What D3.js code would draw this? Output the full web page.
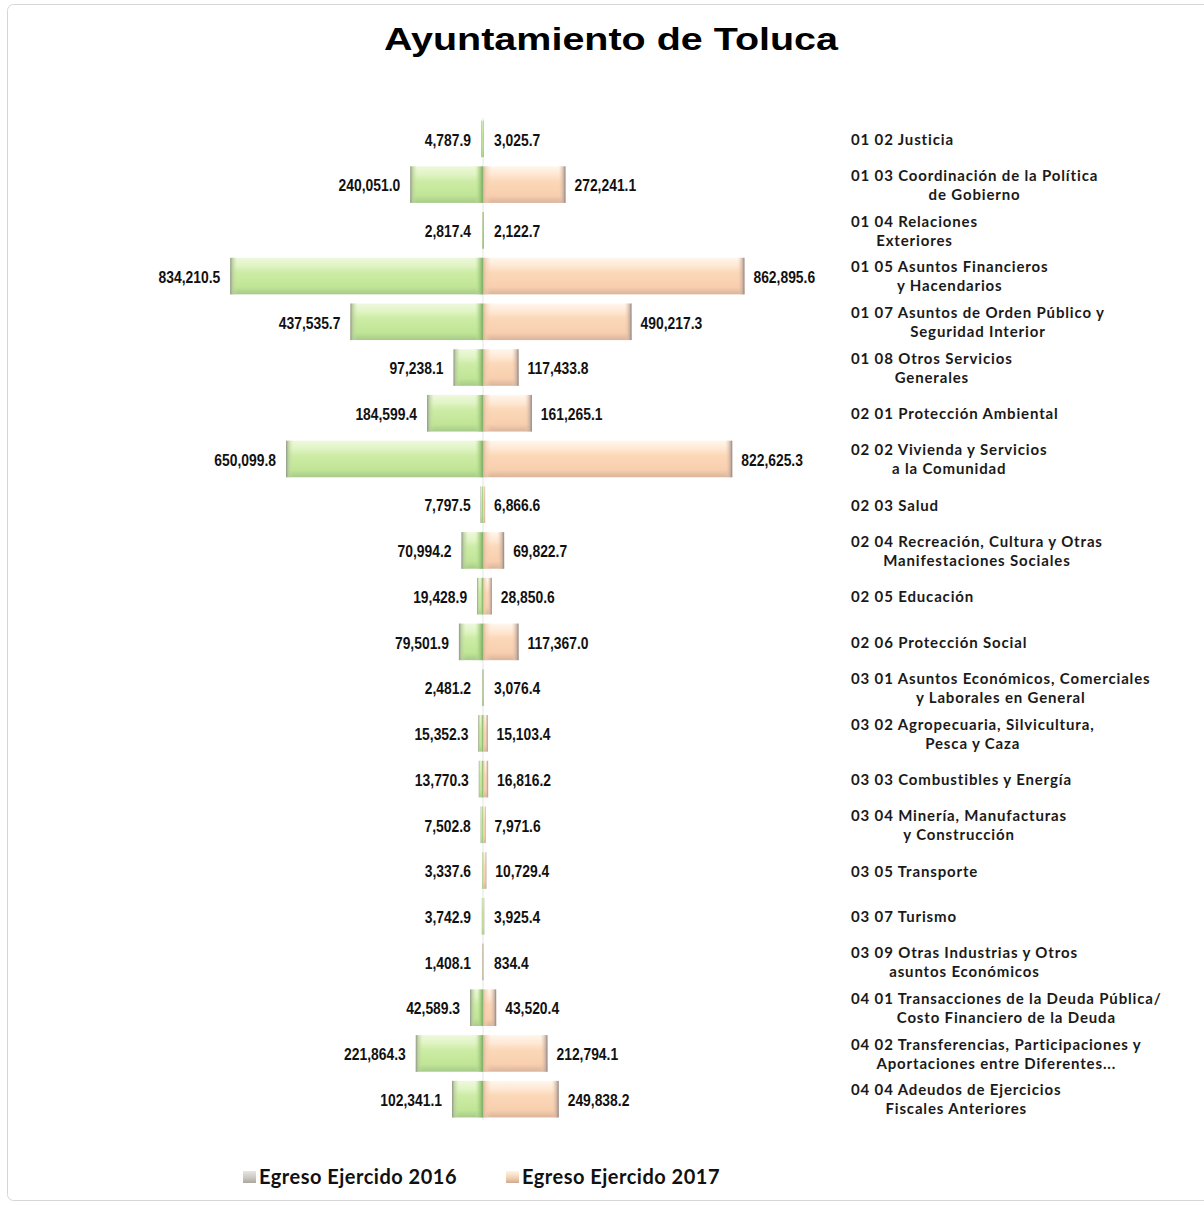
<!DOCTYPE html>
<html>
<head>
<meta charset="utf-8">
<script src="https://cdn.jsdelivr.net/npm/d3@7"></script>
<style>
  body { margin: 0; background: #fff; }
  .valText { font-family: "Liberation Sans", Arial, sans-serif; font-weight: bold; font-size: 16.5px; fill: #111; }
  .catText { font-family: Lato, "Open Sans", sans-serif; font-weight: bold; font-size: 15px; fill: #1a1a1a; letter-spacing: 0.85px; }
  .legText { font-family: Lato, "Open Sans", sans-serif; font-weight: bold; font-size: 20px; fill: #111; letter-spacing: 0.5px; }
</style>
</head>
<body>
<div class="chart"></div>
<script>
// Chart data
var categories = [
  ["01 02 Justicia"],
  ["01 03 Coordinación de la Política", "de Gobierno"],
  ["01 04 Relaciones", "Exteriores"],
  ["01 05 Asuntos Financieros", "y Hacendarios"],
  ["01 07 Asuntos de Orden Público y", "Seguridad Interior"],
  ["01 08 Otros Servicios", "Generales"],
  ["02 01 Protección Ambiental"],
  ["02 02 Vivienda y Servicios", "a la Comunidad"],
  ["02 03 Salud"],
  ["02 04 Recreación, Cultura y Otras", "Manifestaciones Sociales"],
  ["02 05 Educación"],
  ["02 06 Protección Social"],
  ["03 01 Asuntos Económicos, Comerciales", "y Laborales en General"],
  ["03 02 Agropecuaria, Silvicultura,", "Pesca y Caza"],
  ["03 03 Combustibles y Energía"],
  ["03 04 Minería, Manufacturas", "y Construcción"],
  ["03 05 Transporte"],
  ["03 07 Turismo"],
  ["03 09 Otras Industrias y Otros", "asuntos Económicos"],
  ["04 01 Transacciones de la Deuda Pública/", "Costo Financiero de la Deuda"],
  ["04 02 Transferencias, Participaciones y", "Aportaciones entre Diferentes..."],
  ["04 04 Adeudos de Ejercicios", "Fiscales Anteriores"]
];
var egreso2016 = [4787.9, 240051.0, 2817.4, 834210.5, 437535.7, 97238.1, 184599.4, 650099.8,
  7797.5, 70994.2, 19428.9, 79501.9, 2481.2, 15352.3, 13770.3, 7502.8, 3337.6, 3742.9,
  1408.1, 42589.3, 221864.3, 102341.1];
var egreso2017 = [3025.7, 272241.1, 2122.7, 862895.6, 490217.3, 117433.8, 161265.1, 822625.3,
  6866.6, 69822.7, 28850.6, 117367.0, 3076.4, 15103.4, 16816.2, 7971.6, 10729.4, 3925.4,
  834.4, 43520.4, 212794.1, 249838.2];
var seriesNames = ["Egreso Ejercido 2016", "Egreso Ejercido 2017"];

var data = categories.map(function(c, i) {
  return { key: i, label: c, v16: egreso2016[i], v17: egreso2017[i] };
});

var svgWidth = 1204, svgHeight = 1205;
var centerX = 483;

var svg = d3.select(".chart").append("svg")
  .attr("width", svgWidth)
  .attr("height", svgHeight);

// frame
svg.append("rect")
  .attr("x", 7.5).attr("y", 4.5)
  .attr("width", 1220).attr("height", 1196)
  .attr("rx", 6)
  .attr("fill", "#fff")
  .attr("stroke", "#d6d6d6");

var defs = svg.append("defs");
function vGrad(id, stops) {
  var g = defs.append("linearGradient").attr("id", id)
    .attr("x1", 0).attr("y1", 0).attr("x2", 0).attr("y2", 1);
  stops.forEach(function(s) {
    g.append("stop").attr("offset", s[0]).attr("stop-color", s[1]).attr("stop-opacity", s[2] == null ? 1 : s[2]);
  });
}
function hGrad(id, stops) {
  var g = defs.append("linearGradient").attr("id", id)
    .attr("x1", 0).attr("y1", 0).attr("x2", 1).attr("y2", 0);
  stops.forEach(function(s) {
    g.append("stop").attr("offset", s[0]).attr("stop-color", s[1]).attr("stop-opacity", s[2]);
  });
}
vGrad("greenV", [["0%", "#eef8dc"], ["22%", "#e0f4c4"], ["40%", "#cdeca6"], ["80%", "#c0e596"], ["100%", "#a7c98a"]]);
vGrad("peachV", [["0%", "#fff6ec"], ["22%", "#fee8d4"], ["40%", "#fbd8b8"], ["80%", "#f8cfae"], ["100%", "#d9b49c"]]);
hGrad("greenOuter", [["0%", "#8e9586", 1], ["30%", "#b5c79c", 0.8], ["100%", "#c6e89e", 0]]);
hGrad("greenInner", [["0%", "#c6e89e", 0], ["60%", "#9ccb7a", 0.8], ["100%", "#7faa66", 1]]);
hGrad("peachOuter", [["0%", "#f8d0b0", 0], ["70%", "#c5aca0", 0.8], ["100%", "#8a8482", 1]]);
hGrad("peachInner", [["0%", "#d8b596", 1], ["40%", "#f0ccae", 0.6], ["100%", "#f8d0b0", 0]]);
vGrad("legGray", [["0%", "#e8e6e2"], ["60%", "#c9c6c0"], ["100%", "#a9a6a0"]]);
vGrad("legPeach", [["0%", "#fff4e8"], ["60%", "#f3cfae"], ["100%", "#c9ab96"]]);

// scales
var y = d3.scaleBand()
  .domain(data.map(function(d) { return d.key; }))
  .range([116, 1122])
  .paddingInner(0.2)
  .paddingOuter(0.1);

var xScale = d3.scaleLinear().domain([0, 1000000]).range([0, 303]);
var bw = y.bandwidth();

// title
svg.append("text")
  .attr("x", 611).attr("y", 50)
  .attr("text-anchor", "middle")
  .attr("font-family", "Liberation Sans, Arial, sans-serif")
  .attr("font-weight", "bold")
  .attr("font-size", 32)
  .attr("textLength", 454)
  .attr("lengthAdjust", "spacingAndGlyphs")
  .attr("fill", "#000")
  .text("Ayuntamiento de Toluca");

// faint center line
svg.append("line")
  .attr("x1", centerX).attr("x2", centerX)
  .attr("y1", 118).attr("y2", 1120)
  .attr("stroke", "#e4e4e4");

// condense value labels (narrow look)
function narrow(t) {
  var l = t.node().getComputedTextLength();
  t.attr("textLength", l * 0.84).attr("lengthAdjust", "spacingAndGlyphs");
}

var rows = svg.append("g").selectAll("g").data(data).enter().append("g")
  .attr("transform", function(d) { return "translate(0," + y(d.key) + ")"; });

rows.each(function(d) {
  var g = d3.select(this);
  // left bar (2016)
  var w = xScale(d.v16);
  g.append("rect").attr("x", centerX - w).attr("y", 0).attr("width", w).attr("height", bw).attr("fill", "url(#greenV)");
  var eo = Math.max(Math.min(7, w * 0.5), 1.2);
  g.append("rect").attr("x", centerX - w).attr("y", 0).attr("width", eo).attr("height", bw).attr("fill", "url(#greenOuter)");
  var ei = Math.min(8, w * 0.5);
  g.append("rect").attr("x", centerX - ei).attr("y", 0).attr("width", ei).attr("height", bw).attr("fill", "url(#greenInner)");

  // right bar (2017)
  var w2 = xScale(d.v17);
  g.append("rect").attr("x", centerX).attr("y", 0).attr("width", w2).attr("height", bw).attr("fill", "url(#peachV)");
  var pi = Math.min(8, w2 * 0.5);
  g.append("rect").attr("x", centerX).attr("y", 0).attr("width", pi).attr("height", bw).attr("fill", "url(#peachInner)");
  var po = Math.max(Math.min(7, w2 * 0.5), 1.2);
  g.append("rect").attr("x", centerX + w2 - po).attr("y", 0).attr("width", po).attr("height", bw).attr("fill", "url(#peachOuter)");

  var fmt = d3.format(",.1f");
  var tl = g.append("text").attr("class", "valText")
    .attr("x", centerX - Math.max(w, 2) - 10).attr("y", bw / 2 + 1)
    .attr("dy", "0.35em").attr("text-anchor", "end")
    .text(fmt(d.v16));
  narrow(tl);
  var tr = g.append("text").attr("class", "valText")
    .attr("x", centerX + Math.max(w2, 2) + 9).attr("y", bw / 2 + 1)
    .attr("dy", "0.35em").attr("text-anchor", "start")
    .text(fmt(d.v17));
  narrow(tr);

  // category label
  var cy = bw / 2 + 1;
  if (d.label.length === 1) {
    g.append("text").attr("class", "catText")
      .attr("x", 851).attr("y", cy).attr("dy", "0.35em")
      .text(d.label[0]);
  } else {
    var t1 = g.append("text").attr("class", "catText")
      .attr("x", 851).attr("y", cy - 10).attr("dy", "0.35em")
      .text(d.label[0]);
    var len = t1.node().getComputedTextLength();
    g.append("text").attr("class", "catText")
      .attr("x", 851 + len / 2).attr("y", cy + 9).attr("dy", "0.35em")
      .attr("text-anchor", "middle")
      .text(d.label[1]);
  }
});

// legend
var legend = svg.append("g");
var legX = [243, 506];
var legFill = ["url(#legGray)", "url(#legPeach)"];
seriesNames.forEach(function(name, i) {
  legend.append("rect").attr("x", legX[i]).attr("y", 1171).attr("width", 13).attr("height", 12).attr("fill", legFill[i]);
  legend.append("text").attr("class", "legText")
    .attr("x", legX[i] + 16).attr("y", 1177).attr("dy", "0.35em")
    .text(name);
});
</script>
</body>
</html>
